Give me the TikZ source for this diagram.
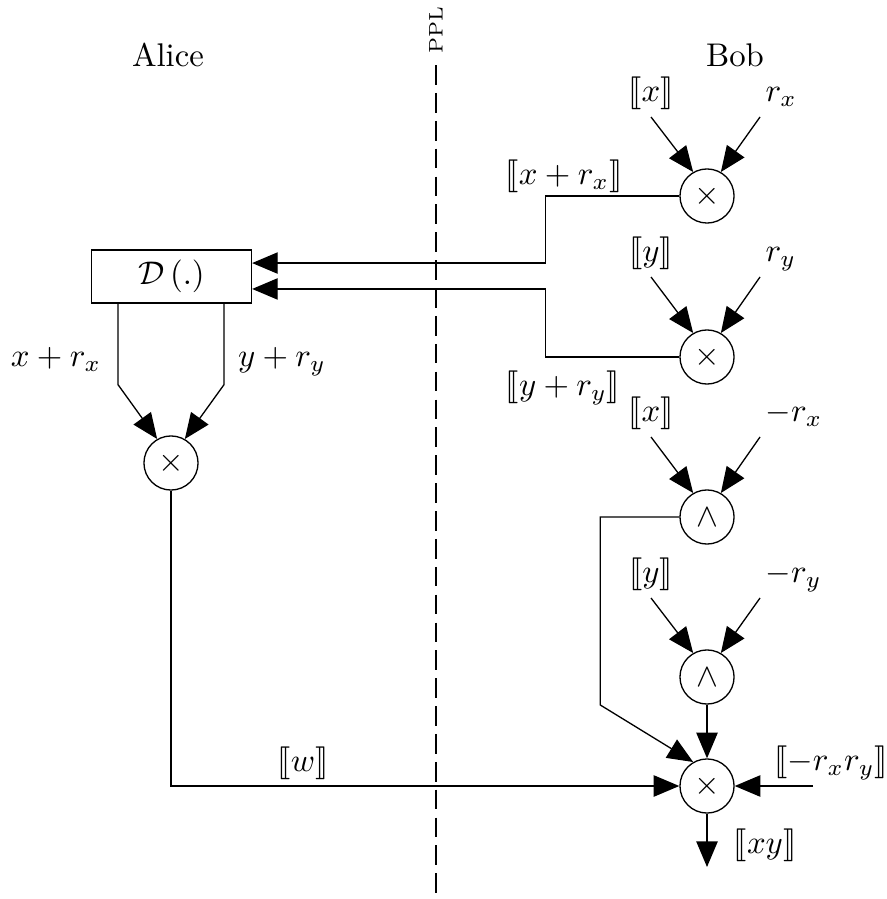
\documentclass[tikz,border=0pt]{standalone}
\usepackage{amsmath,amssymb}
\usepackage{stmaryrd}
\usepackage{tikz}
\usetikzlibrary{positioning, arrows.meta, calc}
\newcommand{\enc}[1]{\llbracket #1\rrbracket}

\begin{document}
\begin{tikzpicture}[x=0.305pt, y=-0.305pt,
  op/.style={draw, circle, minimum size=16.5pt, inner sep=0pt},
  bx/.style={draw, minimum width=48.8pt, minimum height=16.2pt, inner sep=0pt},
  lab/.style={inner sep=1.5pt, text depth=3pt},
  arr/.style={-{Triangle[length=7.8pt,width=6.5pt]}}]
\useasboundingbox (0,0) rectangle (886,899);

\node (alice) at (168,55) {Alice};
\node (bob) at (735,55) {Bob};
\node[rotate=90, font=\fontsize{6}{7}\selectfont] (ppl) at (436,30) {PPL};
\coordinate (pplend) at (436,899);
\draw[dash pattern=on 6pt off 2.5pt] (ppl.west) -- (pplend);

\node[op] (m1) at (707,196) {$\times$};
\node[op] (m2) at (707,357) {$\times$};
\node[op] (a1) at (707,517) {$\wedge$};
\node[op] (a2) at (707,677) {$\wedge$};
\node[op] (m3) at (707,786) {$\times$};
\node[op] (ma) at (171,463) {$\times$};
\node[bx] (dec) at (171.5,276.5) {$\mathcal{D}\left(.\right)$};

\node[lab, anchor=south] (xa) at (651,117) {$\enc{x}$};
\node[lab, anchor=south west] (rxa) at (760,117) {$r_x$};
\node[lab, anchor=south] (ya) at (651,277) {$\enc{y}$};
\node[lab, anchor=south west] (rya) at (760,277) {$r_y$};
\node[lab, anchor=south] (xb) at (651,437) {$\enc{x}$};
\node[lab, anchor=south west] (rxb) at (760,437) {$-r_x$};
\node[lab, anchor=south] (yb) at (651,598) {$\enc{y}$};
\node[lab, anchor=south west] (ryb) at (760,598) {$-r_y$};

\node (xr) at (564,176) {$\enc{x+r_x}$};
\node (yr) at (563,388) {$\enc{y+r_y}$};
\node[anchor=base] (xrp) at (56,367) {$x+r_x$};
\node[anchor=base] (yrp) at (282,367) {$y+r_y$};
\node (w) at (303,763) {$\enc{w}$};
\node (nr) at (831,763) {$\enc{-r_xr_y}$};
\node (xy) at (765,845) {$\enc{xy}$};

\draw[arr] (xa.south) -- (m1.120);
\draw[arr] (rxa.south west) -- (m1.60);
\draw[arr] (ya.south) -- (m2.120);
\draw[arr] (rya.south west) -- (m2.60);
\draw[arr] (xb.south) -- (a1.120);
\draw[arr] (rxb.south west) -- (a1.60);
\draw[arr] (yb.south) -- (a2.120);
\draw[arr] (ryb.south west) -- (a2.60);

\draw[arr] (m1.west) -- ++(-134,0) |- ([yshift=4.1pt]dec.east);
\draw[arr] (m2.west) -- ++(-134,0) |- ([yshift=-3.8pt]dec.east);
\draw[arr] ([xshift=-16.3pt]dec.south) -- ++(0,81) -- (ma.120);
\draw[arr] ([xshift=16pt]dec.south) -- ++(0,81) -- (ma.60);
\draw[arr] (ma.south) |- (m3.west);
\draw[arr] (a1.west) -- ++(-79,0) -- ++(0,188) -- (m3.120);
\draw[arr] (a2.south) -- (m3.north);
\coordinate (cin) at (813,786);
\draw[arr] (cin) -- (m3.east);
\coordinate (cout) at (707,867);
\draw[arr] (m3.south) -- (cout);

\end{tikzpicture}
\end{document}
